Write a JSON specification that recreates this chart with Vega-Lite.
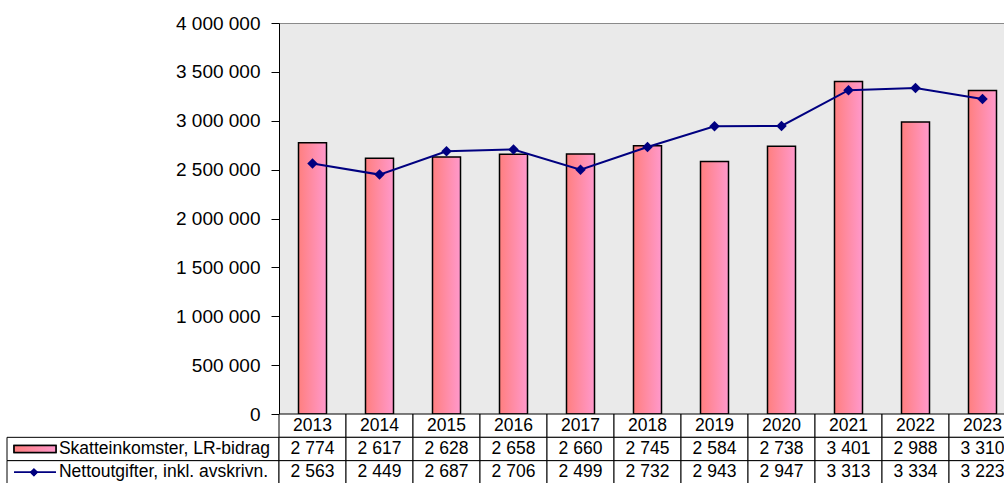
{
  "$schema": "https://vega.github.io/schema/vega-lite/v6.json",
  "padding": {"left": 6, "top": 13, "right": 0, "bottom": 0},
  "background": "white",
  "config": {
    "font": "Liberation Sans",
    "locale": {"number": {"decimal": ",", "thousands": " ", "grouping": [3], "currency": ["", " kr"]}},
    "view": {"stroke": null}
  },
  "datasets": {
    "d": [
      {"year": "2013", "skatt": 2774, "netto": 2563},
      {"year": "2014", "skatt": 2617, "netto": 2449},
      {"year": "2015", "skatt": 2628, "netto": 2687},
      {"year": "2016", "skatt": 2658, "netto": 2706},
      {"year": "2017", "skatt": 2660, "netto": 2499},
      {"year": "2018", "skatt": 2745, "netto": 2732},
      {"year": "2019", "skatt": 2584, "netto": 2943},
      {"year": "2020", "skatt": 2738, "netto": 2947},
      {"year": "2021", "skatt": 3401, "netto": 3313},
      {"year": "2022", "skatt": 2988, "netto": 3334},
      {"year": "2023", "skatt": 3310, "netto": 3223}
    ]
  },
  "columns": 2,
  "spacing": 0,
  "bounds": "flush",
  "align": "each",
  "concat": [
    {
      "width": 272, "height": 391,
      "data": {"values": [{}]},
      "mark": {"type": "text", "text": ""}
    },
    {
      "width": 737, "height": 391,
      "data": {"name": "d"},
      "view": {"fill": "#eaeaea", "stroke": "#8a8a8a", "strokeWidth": 1},
      "encoding": {
        "x": {"field": "year", "type": "ordinal", "axis": null, "scale": {"paddingInner": 0, "paddingOuter": 0}}
      },
      "layer": [
        {
          "mark": {
            "type": "bar", "size": 28, "stroke": "black", "strokeWidth": 1.5,
            "fill": {"gradient": "linear", "x1": 0, "y1": 0, "x2": 1, "y2": 0,
              "stops": [{"offset": 0, "color": "#ff7f7f"}, {"offset": 1, "color": "#ff99cc"}]}
          },
          "encoding": {
            "y": {
              "field": "skatt", "type": "quantitative",
              "scale": {"domain": [0, 4000], "nice": false},
              "axis": {
                "values": [0, 500, 1000, 1500, 2000, 2500, 3000, 3500, 4000],
                "labelExpr": "datum.value == 0 ? '0' : format(datum.value, ',') + ' 000'",
                "grid": false, "title": null,
                "domainColor": "black", "domainWidth": 1,
                "tickColor": "black", "tickSize": 8, "tickWidth": 1,
                "labelFontSize": 19, "labelColor": "black", "labelPadding": 11
              }
            }
          }
        },
        {
          "mark": {
            "type": "line", "color": "#000080", "strokeWidth": 2,
            "point": {"shape": "diamond", "size": 110, "filled": true, "fill": "#000080", "opacity": 1}
          },
          "encoding": {"y": {"field": "netto", "type": "quantitative"}}
        }
      ]
    },
    {
      "width": 272, "height": 70,
      "data": {"values": [
        {"row": "s", "label": "Skatteinkomster, LR-bidrag"},
        {"row": "n", "label": "Nettoutgifter, inkl. avskrivn."}
      ]},
      "layer": [
        {
          "mark": {"type": "rect", "fill": "white", "stroke": "black", "strokeWidth": 1},
          "encoding": {
            "x": {"datum": 0, "type": "quantitative", "scale": {"domain": [0, 1], "nice": false}, "axis": null},
            "x2": {"datum": 1},
            "y": {"field": "row", "type": "nominal", "scale": {"domain": ["hdr", "s", "n"], "paddingInner": 0, "paddingOuter": 0}, "axis": null}
          }
        },
        {
          "mark": {"type": "text", "align": "left", "baseline": "middle", "fontSize": 17.5, "color": "black"},
          "encoding": {
            "x": {"datum": 0.191, "type": "quantitative"},
            "y": {"field": "row", "type": "nominal"},
            "text": {"field": "label"}
          }
        },
        {
          "mark": {
            "type": "bar", "stroke": "black", "strokeWidth": 1.5, "height": {"band": 0.3},
            "fill": {"gradient": "linear", "x1": 0, "y1": 0, "x2": 1, "y2": 0,
              "stops": [{"offset": 0, "color": "#ff7f7f"}, {"offset": 1, "color": "#ff99cc"}]}
          },
          "encoding": {
            "x": {"datum": 0.026, "type": "quantitative"},
            "x2": {"datum": 0.18},
            "y": {"datum": "s", "type": "nominal"}
          }
        },
        {
          "mark": {"type": "rule", "color": "#000080", "strokeWidth": 1.5},
          "encoding": {
            "x": {"datum": 0.026, "type": "quantitative"},
            "x2": {"datum": 0.18},
            "y": {"datum": "n", "type": "nominal"}
          }
        },
        {
          "mark": {"type": "point", "shape": "diamond", "filled": true, "color": "#000080", "size": 70, "opacity": 1},
          "encoding": {
            "x": {"datum": 0.099, "type": "quantitative"},
            "y": {"datum": "n", "type": "nominal"}
          }
        }
      ]
    },
    {
      "width": 737, "height": 70,
      "data": {"name": "d"},
      "encoding": {
        "x": {"field": "year", "type": "ordinal", "axis": null, "scale": {"paddingInner": 0, "paddingOuter": 0}}
      },
      "layer": [
        {
          "mark": {"type": "rect", "fill": "white", "stroke": "black", "strokeWidth": 1},
          "encoding": {"y": {"datum": "hdr", "type": "nominal", "scale": {"domain": ["hdr", "s", "n"], "paddingInner": 0, "paddingOuter": 0}, "axis": null}}
        },
        {
          "mark": {"type": "rect", "fill": "white", "stroke": "black", "strokeWidth": 1},
          "encoding": {"y": {"datum": "s", "type": "nominal"}}
        },
        {
          "mark": {"type": "rect", "fill": "white", "stroke": "black", "strokeWidth": 1},
          "encoding": {"y": {"datum": "n", "type": "nominal"}}
        },
        {
          "mark": {"type": "text", "align": "center", "baseline": "middle", "fontSize": 17.5, "color": "black"},
          "encoding": {"y": {"datum": "hdr", "type": "nominal"}, "text": {"field": "year"}}
        },
        {
          "mark": {"type": "text", "align": "center", "baseline": "middle", "fontSize": 17.5, "color": "black"},
          "encoding": {"y": {"datum": "s", "type": "nominal"}, "text": {"field": "skatt", "type": "quantitative", "format": ","}}
        },
        {
          "mark": {"type": "text", "align": "center", "baseline": "middle", "fontSize": 17.5, "color": "black"},
          "encoding": {"y": {"datum": "n", "type": "nominal"}, "text": {"field": "netto", "type": "quantitative", "format": ","}}
        }
      ]
    }
  ]
}
